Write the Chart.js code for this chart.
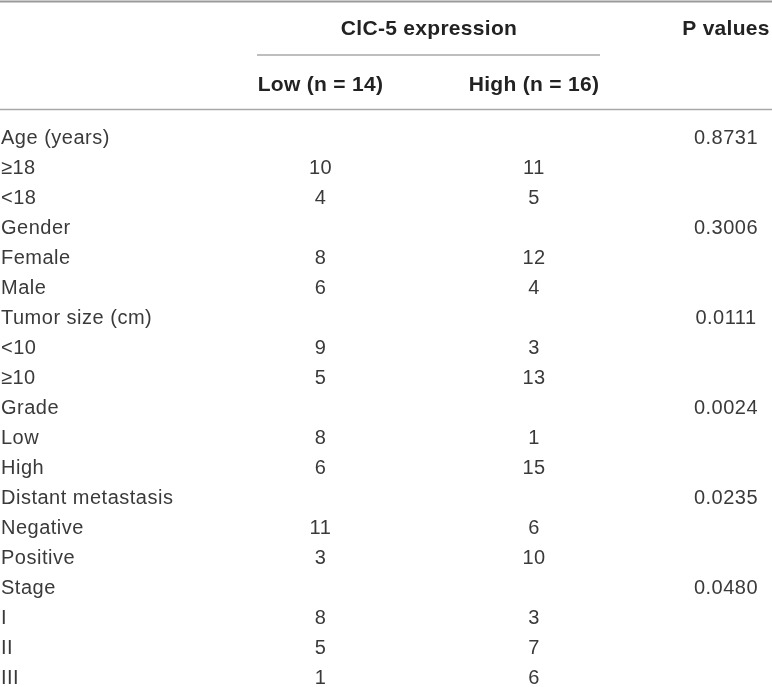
<!DOCTYPE html>
<html>
<head>
<meta charset="utf-8">
<script src="https://cdn.jsdelivr.net/npm/chart.js@4/dist/chart.umd.min.js"></script>
<style>
  html, body { margin: 0; padding: 0; background: #fff; }
  #Table_Chart { display: block; }
</style>
</head>
<body>
<canvas id="Table_Chart" width="772" height="687"></canvas>
<script>
// table content
const rowLabels = ['Age (years)', '\u226518', '<18', 'Gender', 'Female', 'Male',
    'Tumor size (cm)', '<10', '\u226510', 'Grade', 'Low', 'High',
    'Distant metastasis', 'Negative', 'Positive', 'Stage', 'I', 'II', 'III'];
const lowCounts  = [null, 10, 4, null, 8, 6, null, 9, 5, null, 8, 6, null, 11, 3, null, 8, 5, 1];
const highCounts = [null, 11, 5, null, 12, 4, null, 3, 13, null, 1, 15, null, 6, 10, null, 3, 7, 6];
const pValues    = ['0.8731', null, null, '0.3006', null, null, '0.0111', null, null,
    '0.0024', null, null, '0.0235', null, null, '0.0480', null, null, null];
const groupTitle = 'ClC-5 expression';
const colTitles  = ['Low (n = 14)', 'High (n = 16)'];
const pTitle     = 'P values';

// layout (x in pixels of the linear scale, y in row units of the category scale)
const colX = { label: 1, low: 320.5, high: 534, p: 726 };
const headY = { topRule: -4.57, group: -3.63, groupRule: -2.78, cols: -1.76, headRule: -0.97 };
const bodyFont = '20px "Liberation Sans", Arial, sans-serif';
const headFont = 'bold 21px "Liberation Sans", Arial, sans-serif';
const textColor = '#3a3a3a';

function cells(values, x) {
    let pts = [];
    values.forEach((v, i) => {
        if (v !== null) pts.push({ x: x, y: rowLabels[i], text: String(v) });
    });
    return pts;
}

const tablePlugin = {
    id: 'tableText',
    afterDatasetsDraw(chart) {
        const ctx = chart.ctx;
        const xs = chart.scales.x, ys = chart.scales.y;
        ctx.save();
        ctx.textBaseline = 'middle';

        // rules
        ctx.strokeStyle = '#9a9a9a';
        ctx.lineWidth = 2;
        ctx.beginPath();
        ctx.moveTo(xs.getPixelForValue(0), ys.getPixelForValue(headY.topRule));
        ctx.lineTo(xs.getPixelForValue(772), ys.getPixelForValue(headY.topRule));
        ctx.stroke();
        ctx.lineWidth = 1.5;
        ctx.strokeStyle = '#a8a8a8';
        ctx.beginPath();
        ctx.moveTo(xs.getPixelForValue(257), ys.getPixelForValue(headY.groupRule));
        ctx.lineTo(xs.getPixelForValue(600), ys.getPixelForValue(headY.groupRule));
        ctx.stroke();
        ctx.beginPath();
        ctx.moveTo(xs.getPixelForValue(0), ys.getPixelForValue(headY.headRule));
        ctx.lineTo(xs.getPixelForValue(772), ys.getPixelForValue(headY.headRule));
        ctx.stroke();

        // header
        ctx.fillStyle = '#222222';
        ctx.font = headFont;
        ctx.letterSpacing = '0.3px';
        ctx.textAlign = 'center';
        ctx.fillText(groupTitle, xs.getPixelForValue(429), ys.getPixelForValue(headY.group));
        ctx.fillText(pTitle, xs.getPixelForValue(colX.p), ys.getPixelForValue(headY.group));
        ctx.fillText(colTitles[0], xs.getPixelForValue(colX.low), ys.getPixelForValue(headY.cols));
        ctx.fillText(colTitles[1], xs.getPixelForValue(colX.high), ys.getPixelForValue(headY.cols));

        // body cells, placed at the dataset points
        ctx.fillStyle = textColor;
        ctx.font = bodyFont;
        ctx.letterSpacing = '0.5px';
        chart.data.datasets.forEach((ds, di) => {
            const meta = chart.getDatasetMeta(di);
            ctx.textAlign = ds.align;
            meta.data.forEach((el, i) => {
                ctx.fillText(ds.data[i].text, el.x, el.y);
            });
        });
        ctx.restore();
    }
};

let table_chart = new Chart(document.getElementById('Table_Chart'), {
    type: 'scatter',
    data: {
        datasets: [
            { label: 'Characteristic', data: cells(rowLabels, colX.label), align: 'left' },
            { label: 'Low', data: cells(lowCounts, colX.low), align: 'center' },
            { label: 'High', data: cells(highCounts, colX.high), align: 'center' },
            { label: 'P values', data: cells(pValues, colX.p), align: 'center' }
        ]
    },
    options: {
        responsive: false,
        animation: false,
        devicePixelRatio: 1,
        layout: { padding: { top: 138.5, bottom: 8.5, left: 0, right: 0 } },
        elements: { point: { radius: 0, hoverRadius: 0 } },
        plugins: { legend: { display: false }, tooltip: { enabled: false } },
        events: [],
        scales: {
            x: { type: 'linear', min: 0, max: 772, display: false },
            y: { type: 'category', labels: rowLabels, offset: false, display: false }
        }
    },
    plugins: [tablePlugin]
});
</script>
</body>
</html>
